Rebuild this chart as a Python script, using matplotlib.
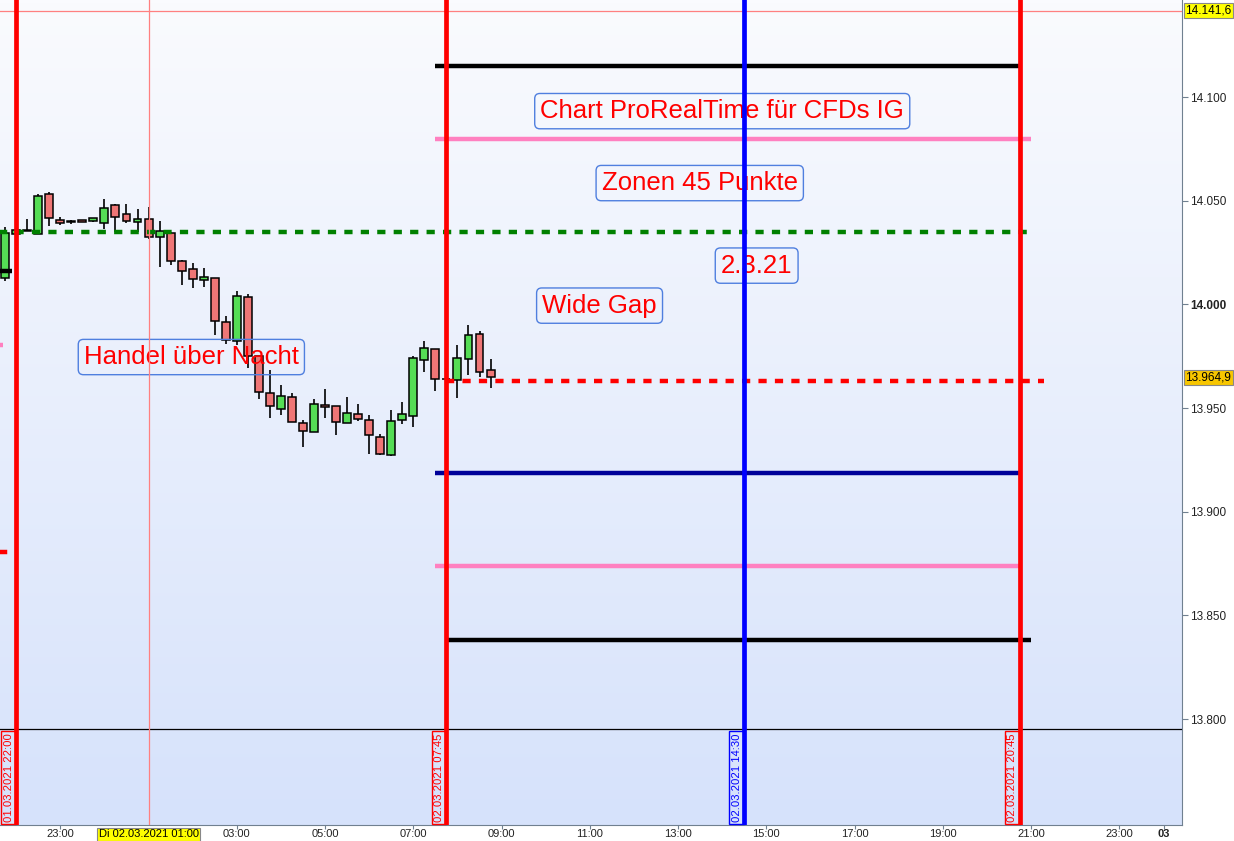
import numpy as np
import matplotlib.pyplot as plt
import matplotlib.transforms as mtransforms

plt.rcParams['font.family'] = ['Liberation Sans', 'DejaVu Sans']

# ---------------------------------------------------------------
# data: 15-minute candles, time in hours from 02.03.2021 00:00
# ---------------------------------------------------------------
candle_k = list(range(-13, 32))
opens = [14012.9, 14034.1, 14035.6, 14034.1, 14053.4, 14040.8, 14040.1, 14040.5, 14040.4, 14039.2,
         14048.1, 14043.7, 14039.9, 14041.3, 14032.4, 14034.6, 14020.7, 14017.2, 14011.9, 14012.9,
         13991.7, 13982.5, 14003.4, 13974.9, 13957.4, 13949.7, 13955.5, 13943.0, 13938.6, 13951.6,
         13951.2, 13943.0, 13947.3, 13944.4, 13936.2, 13927.5, 13944.4, 13946.3, 13973.3, 13978.6,
         13964.0, 13963.7, 13973.8, 13985.9, 13968.2]
highs = [14037.1, 14036.5, 14041.0, 14053.4, 14054.1, 14042.3, 14040.7, 14040.6, 14041.5, 14050.9,
         14048.6, 14048.6, 14045.8, 14046.8, 14040.0, 14034.8, 14021.6, 14019.9, 14017.4, 14012.9,
         13994.2, 14006.3, 14005.2, 13975.2, 13968.2, 13960.9, 13957.4, 13944.4, 13954.5, 13959.4,
         13951.2, 13955.2, 13952.1, 13946.8, 13937.7, 13948.9, 13952.7, 13974.9, 13982.2, 13978.6,
         13964.5, 13980.2, 13989.9, 13987.0, 13973.5]
lows = [14011.2, 14033.5, 14035.2, 14034.1, 14037.8, 14038.4, 14039.0, 14039.7, 14039.9, 14036.3,
        14034.9, 14039.2, 14034.9, 14031.7, 14018.0, 14019.1, 14009.3, 14007.9, 14008.3, 13985.1,
        13981.1, 13980.2, 13969.5, 13954.3, 13945.4, 13946.6, 13943.4, 13931.2, 13938.6, 13945.2,
        13937.2, 13943.0, 13943.7, 13928.0, 13927.2, 13926.9, 13942.1, 13940.8, 13967.4, 13958.2,
        13963.5, 13954.8, 13966.1, 13964.9, 13959.6]
closes = [14034.4, 14036.0, 14035.9, 14052.4, 14041.8, 14039.4, 14039.9, 14039.8, 14041.5, 14046.6,
          14042.1, 14040.4, 14041.3, 14032.4, 14035.2, 14021.1, 14016.2, 14012.4, 14013.4, 13992.1,
          13983.0, 14004.2, 13974.9, 13957.8, 13951.2, 13956.0, 13943.4, 13939.1, 13952.1, 13950.5,
          13943.4, 13947.8, 13944.9, 13937.2, 13928.0, 13943.9, 13947.3, 13974.0, 13979.1, 13964.2,
          13963.8, 13974.3, 13985.4, 13967.4, 13964.9]

# horizontal levels: (price, start hour, end hour, colour, style)
levels = [
    (14114.8, 7.5, 20.75, 'black', 'solid'),
    (14080.0, 7.5, 21.0, '#ff80c0', 'solid'),
    (14034.7, -2.4, 20.95, '#008000', 'dashed'),
    (13962.9, 7.75, 21.3, '#ff0000', 'dashed'),
    (13918.5, 7.5, 20.75, '#000099', 'solid'),
    (13873.7, 7.5, 20.75, '#ff80c0', 'solid'),
    (13838.0, 7.75, 21.0, 'black', 'solid'),
    (14015.9, -2.4, -2.1, 'black', 'solid'),
    (13980.2, -2.4, -2.3, '#ff80c0', 'solid'),
    (13880.4, -2.4, -2.05, '#ff0000', 'dashed'),
]

# vertical markers
vlines_h = [-2.0, 7.75, 14.5, 20.75]
vlines_col = ['#ff0000', '#ff0000', '#0000ff', '#ff0000']
vlines_lab = ['01.03.2021 22:00', '02.03.2021 07:45', '02.03.2021 14:30', '02.03.2021 20:45']

# annotations
notes = ['Chart ProRealTime für CFDs IG', 'Zonen 45 Punkte', '2.3.21', 'Wide Gap', 'Handel über Nacht']
notes_x = [14.0, 13.49, 14.78, 11.22, 1.97]
notes_y = [14093.2, 14058.5, 14018.7, 13999.4, 13974.6]

xtick_pos = [-1, 3, 5, 7, 9, 11, 13, 15, 17, 19, 21, 23, 24]
xtick_lab = ['23:00', '03:00', '05:00', '07:00', '09:00', '11:00', '13:00', '15:00', '17:00',
             '19:00', '21:00', '23:00', '03']
ytick_pos = [13800, 13850, 13900, 13950, 14000, 14050, 14100]
ytick_lab = ['13.800', '13.850', '13.900', '13.950', '14.000', '14.050', '14.100']

cross_h = 1.0
cross_p = 14141.6
last_p = 13964.9

# ---------------------------------------------------------------
fig = plt.figure(figsize=(12.34, 8.41), dpi=100)
ax = fig.add_axes([0, 16 / 841, 1182 / 1234, 825 / 841])
xmin, xmax = -2.366, 24.418
ymin, ymax = 13748.9, 14146.8
ax.set_xlim(xmin, xmax)
ax.set_ylim(ymin, ymax)

# background gradient
grad = np.linspace(0, 1, 256).reshape(-1, 1)
top = np.array([250, 251, 254]) / 255
bot = np.array([214, 226, 251]) / 255
img = top + (bot - top) * grad[:, :, None]
ax.imshow(img, extent=[xmin, xmax, ymin, ymax], aspect='auto', origin='upper', zorder=0)

# candles
t = np.array([1 + k * 0.25 for k in candle_k])
o = np.array(opens)
c = np.array(closes)
ax.vlines(t, lows, highs, color='black', lw=1.2, zorder=3)
body_b = np.minimum(o, c)
body_h = np.maximum(np.abs(c - o), 0.4)
cols = ['#55dd55' if cc >= oo else '#ef7676' for oo, cc in zip(o, c)]
ax.bar(t, body_h, bottom=body_b, width=0.18, color=cols, edgecolor='black', lw=1.1, zorder=4)

# annotation boxes
for txt, x, y in zip(notes, notes_x, notes_y):
    ax.text(x, y, txt, color='#ff0000', fontsize=18.5, ha='center', va='center', zorder=5,
            bbox=dict(boxstyle='round,pad=0.22,rounding_size=0.2', fc='none', ec='#4f7fdf', lw=1))

# horizontal levels
for p, x0, x1, col, ls in levels:
    style = (0, (1.85, 1.85)) if ls == 'dashed' else '-'
    ax.plot([x0, x1], [p, p], color=col, lw=3.2, linestyle=style, zorder=6, solid_capstyle='butt')

# panel separator
ax.axhline(13795, color='black', lw=0.9, zorder=6)

# crosshair
ax.axvline(cross_h, color='#ff8080', lw=0.9, zorder=7)
ax.axhline(cross_p, color='#ff8080', lw=0.9, zorder=7)

# vertical markers with date labels
for h, col, lab in zip(vlines_h, vlines_col, vlines_lab):
    ax.axvline(h, color=col, lw=3.4, zorder=8)
    ax.text(h - 0.06, ymin + 1.5, lab, rotation=90, color=col, fontsize=8.1, ha='right', va='bottom',
            zorder=8, bbox=dict(boxstyle='square,pad=0.2', fc='none', ec=col, lw=1))

# axes styling
for s in ['top', 'left']:
    ax.spines[s].set_visible(False)
ax.spines['right'].set_color('#708090')
ax.spines['bottom'].set_color('#708090')
ax.yaxis.tick_right()
ax.set_yticks(ytick_pos)
ax.set_yticklabels(ytick_lab)
ax.set_xticks(xtick_pos)
ax.set_xticklabels(xtick_lab)
ax.tick_params(axis='y', length=4, pad=2, labelsize=8.5, colors='#708090', labelcolor='#222222')
ax.tick_params(axis='x', length=3, pad=0, labelsize=8, colors='#708090', labelcolor='#222222')
for lab in ax.get_yticklabels():
    if lab.get_text() == '14.000':
        lab.set_fontweight('bold')
for lab in ax.get_xticklabels():
    if lab.get_text() == '03':
        lab.set_fontweight('bold')

# price labels on the right axis
ytrans = mtransforms.blended_transform_factory(ax.transAxes, ax.transData)
ax.text(1.003, cross_p, '14.141,6', transform=ytrans, fontsize=8.5, ha='left', va='center',
        clip_on=False, bbox=dict(boxstyle='square,pad=0.12', fc='#ffff00', ec='#888888', lw=0.8))
ax.text(1.003, last_p, '13.964,9', transform=ytrans, fontsize=8.5, ha='left', va='center',
        clip_on=False, bbox=dict(boxstyle='square,pad=0.12', fc='#f7c600', ec='#888888', lw=0.8))

# crosshair time label on the x axis
xtrans = mtransforms.blended_transform_factory(ax.transData, ax.transAxes)
ax.text(cross_h, -0.0115, 'Di 02.03.2021 01:00', transform=xtrans, fontsize=8, ha='center',
        va='center', clip_on=False,
        bbox=dict(boxstyle='square,pad=0.12', fc='#ffff00', ec='#888888', lw=0.8))

fig.savefig('out.png', dpi=100)
